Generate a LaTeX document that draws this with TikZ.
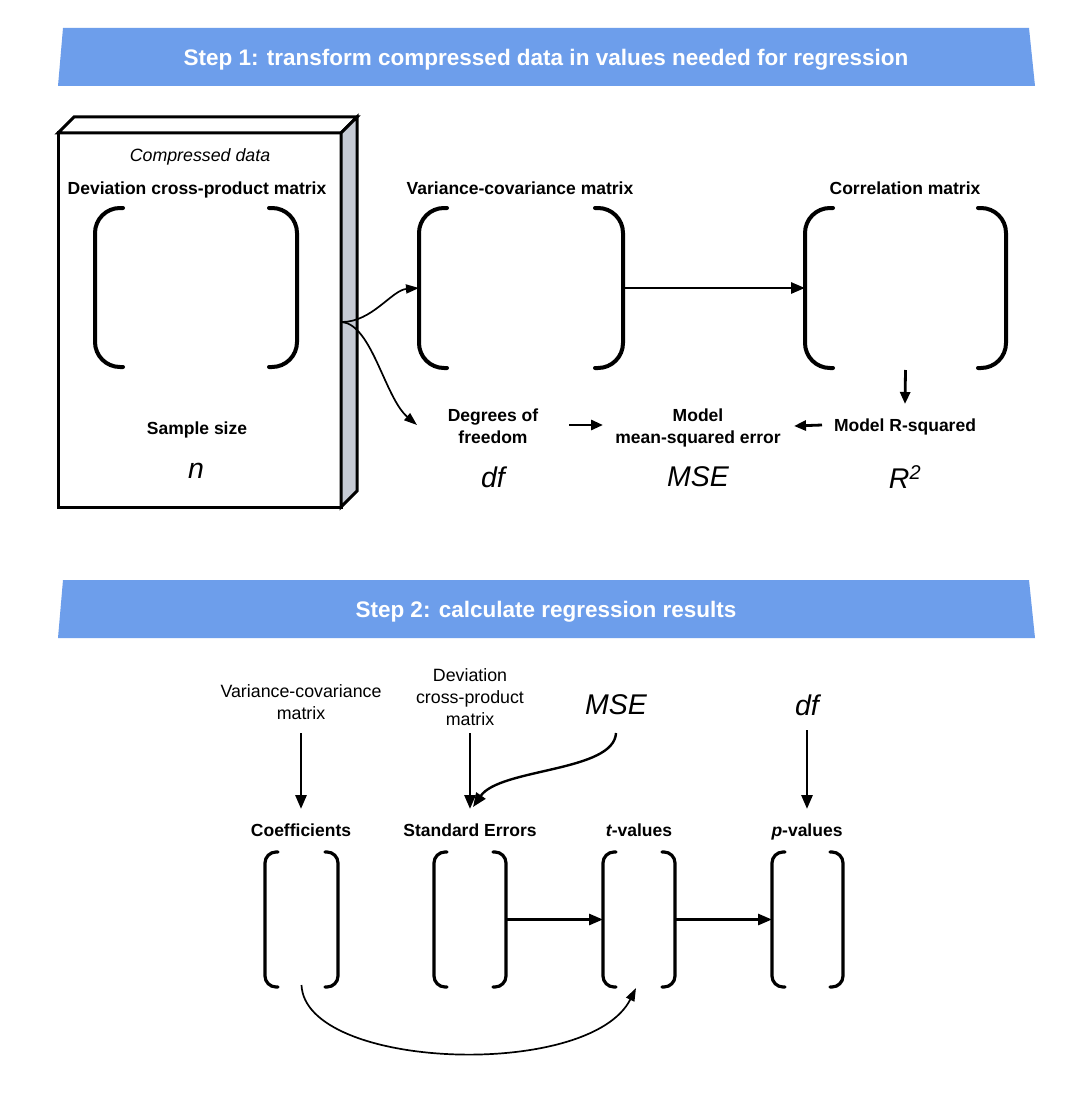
\documentclass[tikz,border=0pt]{standalone}
\usepackage{fontspec}
\setmainfont{Liberation Sans}
\usetikzlibrary{arrows.meta}
\definecolor{banner}{RGB}{109,158,235}
\definecolor{sideface}{RGB}{197,202,212}
\newcommand\matbrackets[3]{%
  \draw[#3] ([xshift=#2]#1.north west) -- (#1.north west) -- (#1.south west) -- ([xshift=#2]#1.south west);
  \draw[#3] ([xshift=-#2]#1.north east) -- (#1.north east) -- (#1.south east) -- ([xshift=-#2]#1.south east);}
\begin{document}
\begin{tikzpicture}[x=1pt,y=-1pt,
  bf/.style={font=\fontsize{17.5}{22}\selectfont\bfseries, align=center, inner sep=0pt, text depth=0pt},
  rg/.style={font=\fontsize{17.8}{22}\selectfont, align=center, inner sep=0pt},
  itl/.style={font=\fontsize{17.8}{22}\selectfont\itshape, align=center, inner sep=0pt, text depth=0pt},
  big/.style={font=\fontsize{28.5}{30}\selectfont\itshape, inner sep=0pt},
  bantext/.style={font=\fontsize{22.5}{26}\selectfont\bfseries, text=white, inner sep=0pt, text depth=0pt},
  mat/.style={inner sep=0pt, outer sep=0pt, draw=none},
  brk/.style={line width=4pt, line cap=round, rounded corners=25pt},
  sbrk/.style={line width=3.2pt, line cap=round, rounded corners=11pt},
  arr/.style={line width=2.8pt, -{Triangle[length=14pt,width=11pt]}},
  sarr/.style={line width=2.8pt, -{Triangle[length=12pt,width=10pt]}},
  carr/.style={line width=1.7pt, -{Triangle[length=13pt,width=9pt]}},
]
\useasboundingbox (0,0) rectangle (1087,1097);
\fill[white] (0,0) rectangle (1087,1097);

% ---------- Step 1 banner
\fill[banner] (63,28) -- (1029,28) -- (1035,86) -- (58,86) -- cycle;
\node[bantext] (s1) at (546,57) {Step 1: transform compressed data in values needed for regression};

% ---------- compressed data box
\node[draw, fill=white, line width=3pt, minimum width=283pt, minimum height=374pt, inner sep=0pt, outer sep=0pt] (box) at (199.5,320) {};
\draw[line width=3pt, line join=miter, fill=white] (box.north west) -- ++(16,-16) -- ++(283,0) -- (box.north east) -- cycle;
\draw[line width=3pt, line join=miter, fill=sideface] (box.north east) -- ++(16,-16) -- ++(0,374) -- (box.south east) -- cycle;

\node[itl] (cd) at (200,155) {Compressed data};
\node[bf] (dcpl) at (197,188) {Deviation cross-product matrix};
\node[mat, minimum width=202pt, minimum height=159pt] (dcp) at (196,287.5) {};
\matbrackets{dcp}{28pt}{brk}
\node[bf] (ss) at (197,428) {Sample size};
\node[big] (nv) at (196,471) {n};

% ---------- matrices
\node[bf] (vcl) at (520,188) {Variance-covariance matrix};
\node[mat, minimum width=204pt, minimum height=160pt] (vc) at (521,288) {};
\matbrackets{vc}{28pt}{brk}
\node[bf] (corl) at (905,188) {Correlation matrix};
\node[mat, minimum width=201pt, minimum height=160pt] (cor) at (905.5,288) {};
\matbrackets{cor}{28pt}{brk}

% ---------- derived values
\node[bf] (dof) at (493,426) {Degrees of\\freedom};
\node[big] (dfv) at (493,477) {df};
\node[bf] (msel) at (698,426) {Model\\mean-squared error};
\node[big] (msev) at (698,477) {MSE};
\node[bf] (rsq) at (905,425) {Model R-squared};
\node[big] (r2v) at (905,477) {R\textsuperscript{2}};

% ---------- step 1 connectors
\coordinate (bo) at (342,322);
\draw[carr] (bo) .. controls (372,322) and (392,290) .. (vc.west);
\draw[carr] (bo) .. controls (372,325) and (385,398) .. ([xshift=-76pt,yshift=1pt]dof.center);
\draw[arr] (vc.east) -- (cor.west);
\draw[sarr] ([yshift=-2pt]cor.south) -- ([yshift=21pt]rsq.center);
\draw[sarr] ([xshift=76pt,yshift=1pt]dof.center) -- ([xshift=-95pt,yshift=1pt]msel.center);
\draw[sarr] ([xshift=-83pt]rsq.center) -- ([xshift=96pt]msel.center);

% ---------- Step 2 banner
\fill[banner] (63,580) -- (1029,580) -- (1035,638) -- (58,638) -- cycle;
\node[bantext] (s2) at (546,609) {Step 2: calculate regression results};

% ---------- step 2 inputs
\node[rg] (vcl2) at (301,702) {Variance-covariance\\matrix};
\node[rg] (dcl2) at (470,697) {Deviation\\cross-product\\matrix};
\node[big] (mse2) at (616,705) {MSE};
\node[big] (df2) at (807,705) {df};

% ---------- step 2 results
\node[bf] (coefl) at (301,830) {Coefficients};
\node[bf] (sel) at (470,830) {Standard Errors};
\node[bf] (tl) at (639,830) {{\itshape t}-values};
\node[bf] (pl) at (807,830) {{\itshape p}-values};

\node[mat, minimum width=73pt, minimum height=135pt] (coef) at (301.5,919.5) {};
\matbrackets{coef}{13pt}{sbrk}
\node[mat, minimum width=72pt, minimum height=135pt] (se) at (470,919.5) {};
\matbrackets{se}{13pt}{sbrk}
\node[mat, minimum width=72pt, minimum height=135pt] (tv) at (639,919.5) {};
\matbrackets{tv}{13pt}{sbrk}
\node[mat, minimum width=71pt, minimum height=135pt] (pv) at (807.5,919.5) {};
\matbrackets{pv}{13pt}{sbrk}

% ---------- step 2 connectors
\draw[arr] ([yshift=-31pt]vcl2.center) -- ([yshift=21pt]coefl.center);
\draw[arr] ([yshift=-36pt]dcl2.center) -- ([yshift=21pt]sel.center);
\draw[arr] ([yshift=-25pt]df2.center) -- ([yshift=21pt]pl.center);
\draw[line width=2.4pt, -{Triangle[length=14pt,width=11pt]}] ([yshift=-28pt]mse2.center) .. controls (614,772) and (500,768) .. ([xshift=3pt,yshift=23pt]sel.center);
\draw[arr] (se.east) -- (tv.west);
\draw[arr] (tv.east) -- (pv.west);
\draw[carr] ([yshift=2pt]coef.south) .. controls (305,1070) and (590,1080) .. ([xshift=-3pt,yshift=-1pt]tv.south);
\end{tikzpicture}
\end{document}
